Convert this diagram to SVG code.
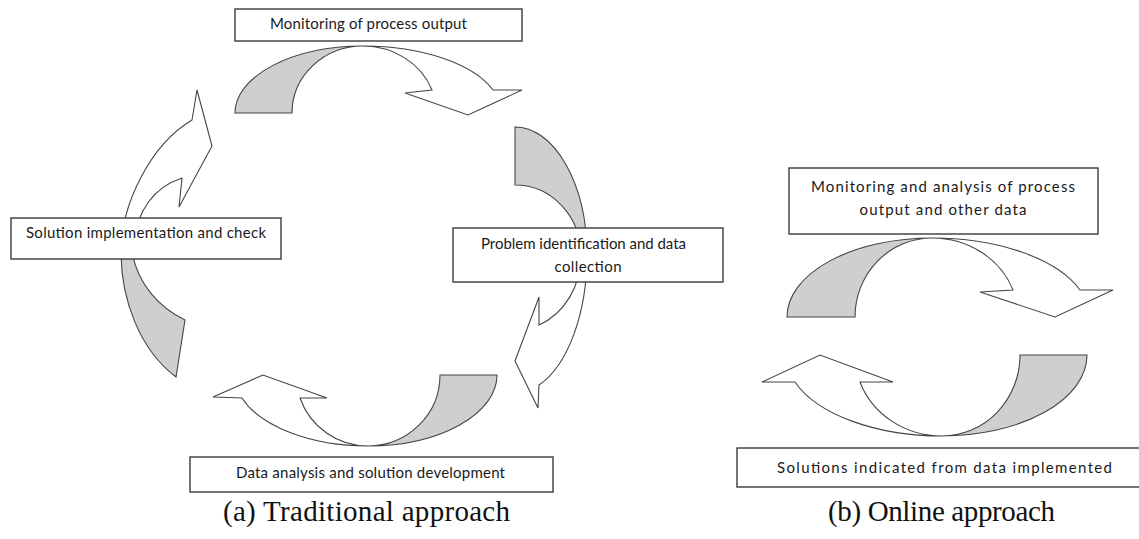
<svg xmlns="http://www.w3.org/2000/svg" width="1139" height="539" viewBox="0 0 1139 539">
  <style>
    .band { fill: #ffffff; stroke: #454545; stroke-width: 1.1; stroke-linejoin: miter; }
    .shade { fill: #cfcfcf; stroke: #454545; stroke-width: 1.1; }
    .box { fill: #ffffff; stroke: #3a3a3a; stroke-width: 1.4; }
    .lbl { font-family: Lato, "Open Sans", "Liberation Sans", sans-serif; font-size: 15px; fill: #1a1a1a; text-anchor: middle; }
    .cap { font-family: "Liberation Serif", "DejaVu Serif", serif; font-size: 29px; fill: #111111; text-anchor: middle; }
  </style>

  <!-- curved arrows of the cycle -->
  <g id="connectors">
    <!-- (a) top: monitoring -> problem identification -->
    <g id="arrow-a-top">
      <path class="shade" d="M235,113 A128,67 0 0 1 363,46 A71,67 0 0 0 292,113 Z"/>
      <path class="band" d="M363,46 A138,67 0 0 1 493,90 L522,90 L468,115 L405,93 L432,90 A73.5,67 0 0 0 363,46 Z"/>
    </g>
    <!-- (a) right: problem identification -> data analysis -->
    <g id="arrow-a-right">
      <path class="shade" d="M515,127 A72,128 0 0 1 587,255 L581,255 A66,70 0 0 0 515,185 Z"/>
      <path class="band" d="M587,255 A72,138 0 0 1 539,385 L538,408 L515,361 L539,297 L539,325 A66,75 0 0 0 581,255 Z"/>
    </g>
    <!-- (a) bottom: data analysis -> solution implementation -->
    <g id="arrow-a-bottom">
      <path class="shade" d="M497,375 A129,71 0 0 1 368,446 A72,71 0 0 0 440,375 Z"/>
      <path class="band" d="M368,446 A133,71 0 0 1 242,398 L213,397 L263,375 L327,398 L300,398 A72,71 0 0 0 368,446 Z"/>
    </g>
    <!-- (a) left: solution implementation -> monitoring -->
    <g id="arrow-a-left">
      <path class="shade" d="M121,252 C121,300 140,350 176,377 L185,320 C160,308 138,285 132,252 Z"/>
      <path class="band" d="M121,252 C121,205 150,145 192,120 L197,90 L212,146 L179,207 L182,178 C158,186 138,205 133,245 L121,252 Z"/>
    </g>
    <!-- (b) top: monitoring and analysis -> solutions -->
    <g id="arrow-b-top">
      <path class="shade" d="M787,317 A145,79 0 0 1 932,238 A77,79 0 0 0 855,317 Z"/>
      <path class="band" d="M932,238 A157.5,79 0 0 1 1080,290 L1113,290 L1055,317 L980,292 L1013,290 A86.2,79 0 0 0 932,238 Z"/>
    </g>
    <!-- (b) bottom: solutions -> monitoring and analysis -->
    <g id="arrow-b-bottom">
      <path class="shade" d="M1087,355 A145,81 0 0 1 942,436 A78,81 0 0 0 1020,355 Z"/>
      <path class="band" d="M942,436 A155.9,81 0 0 1 795,382 L762,382 L820,355 L893,382 L860,382 A87,81 0 0 0 942,436 Z"/>
    </g>
  </g>

  <!-- (a) traditional approach -->
  <g id="node-monitoring">
    <rect class="box" x="235" y="9" width="287" height="32"/>
    <text class="lbl" x="368.5" y="29" textLength="197">Monitoring of process output</text>
  </g>
  <g id="node-problem">
    <rect class="box" x="453" y="228" width="270" height="54"/>
    <text class="lbl" x="583.5" y="249" textLength="205">Problem identification and data</text>
    <text class="lbl" x="588" y="272" textLength="67">collection</text>
  </g>
  <g id="node-analysis">
    <rect class="box" x="190" y="457" width="363" height="35"/>
    <text class="lbl" x="370.5" y="478" textLength="269">Data analysis and solution development</text>
  </g>
  <g id="node-solution">
    <rect class="box" x="11" y="218" width="270" height="41"/>
    <text class="lbl" x="146" y="238" textLength="240">Solution implementation and check</text>
  </g>

  <!-- (b) online approach -->
  <g id="node-online-monitoring">
    <rect class="box" x="789" y="168" width="309" height="66"/>
    <text class="lbl" x="943" y="192" textLength="264">Monitoring and analysis of process</text>
    <text class="lbl" x="943" y="215" textLength="167">output and other data</text>
  </g>
  <g id="node-online-solutions">
    <rect class="box" x="737" y="448" width="415" height="39"/>
    <text class="lbl" x="944.5" y="473" textLength="335">Solutions indicated from data implemented</text>
  </g>

  <!-- sub-figure captions -->
  <g id="captions">
    <text class="cap" x="366.5" y="521" textLength="287">(a) Traditional approach</text>
    <text class="cap" x="941.5" y="521" textLength="227">(b) Online approach</text>
  </g>
</svg>
